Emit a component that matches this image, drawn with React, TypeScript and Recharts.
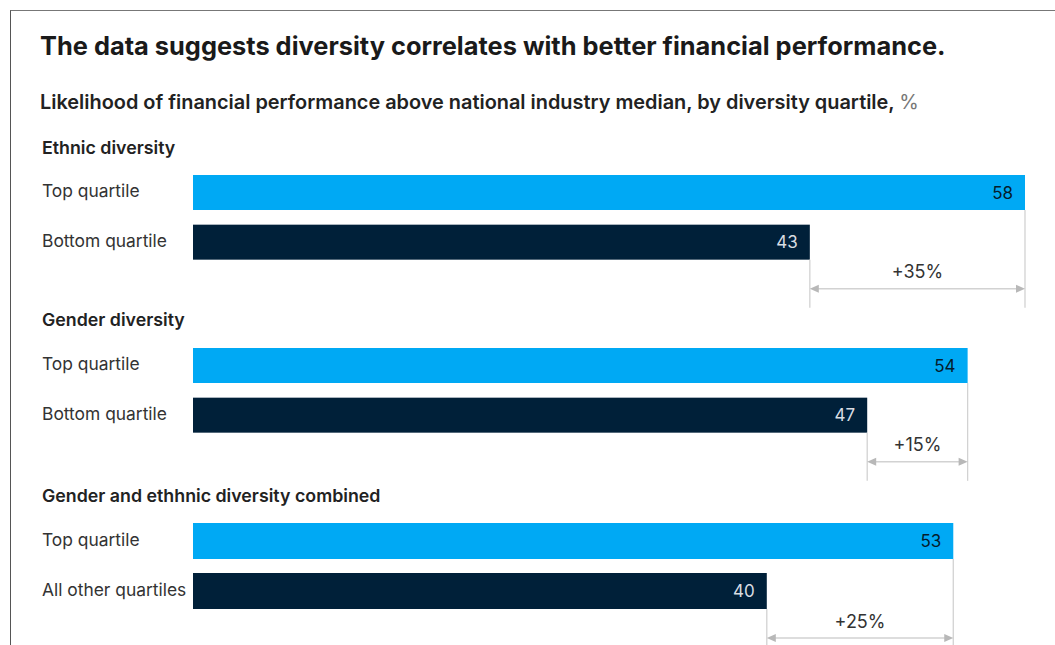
import React from 'react';
import { BarChart, Bar, XAxis, YAxis, LabelList } from 'recharts';

const groupTitles = ['Ethnic diversity', 'Gender diversity', 'Gender and ethhnic diversity combined'];
const topLabels = ['Top quartile', 'Top quartile', 'Top quartile'];
const bottomLabels = ['Bottom quartile', 'Bottom quartile', 'All other quartiles'];
const topValues = [58, 54, 53];
const bottomValues = [43, 47, 40];
const diffLabels = ['+35%', '+15%', '+25%'];

const TOP_COLOR = '#00A9F4';
const BOTTOM_COLOR = '#002039';
const FONT = 'Inter, "Noto Sans", sans-serif';

// layout per group: chart top, chart height, bar thickness, heading center
const groups = [
  { top: 168, height: 149, barSize: 35, headY: 148 },
  { top: 341, height: 149, barSize: 35, headY: 320 },
  { top: 516, height: 150, barSize: 36, headY: 496 },
];

function makeData(i: number) {
  return [
    { name: topLabels[i], value: topValues[i], kind: 'top' },
    { name: bottomLabels[i], value: bottomValues[i], kind: 'bottom' },
    { name: ' ', value: [bottomValues[i], topValues[i]], kind: 'diff', label: diffLabels[i] },
  ];
}

function makeShape(band: number, barSize: number) {
  return (props: any) => {
    const { x, y, width, height, payload } = props;
    if (payload.kind !== 'diff') {
      return (
        <rect x={x} y={y} width={width} height={height}
          fill={payload.kind === 'top' ? TOP_COLOR : BOTTOM_COLOR} />
      );
    }
    const cy = y + height / 2;
    const ay = cy - 3;
    const x1 = x;
    const x2 = x + width;
    const lineEnd = ay + 19;
    const gray = '#d2d2d2';
    const head = '#b8b8b8';
    return (
      <g>
        <line x1={x2} x2={x2} y1={cy - 2 * band + barSize / 2} y2={lineEnd} stroke={gray} strokeWidth={1.3} />
        <line x1={x1} x2={x1} y1={cy - band + barSize / 2} y2={lineEnd} stroke={gray} strokeWidth={1.3} />
        <line x1={x1 + 6} x2={x2 - 6} y1={ay} y2={ay} stroke={gray} strokeWidth={1.5} />
        <polygon points={`${x1},${ay} ${x1 + 9},${ay - 4} ${x1 + 9},${ay + 4}`} fill={head} />
        <polygon points={`${x2},${ay} ${x2 - 9},${ay - 4} ${x2 - 9},${ay + 4}`} fill={head} />
        <text x={(x1 + x2) / 2} y={ay - 17} textAnchor="middle" dominantBaseline="central"
          fontSize={18} fontFamily={FONT} fill="#333">{payload.label}</text>
      </g>
    );
  };
}

const ValueLabel = (props: any) => {
  const { x, y, width, height, value, index } = props;
  if (Array.isArray(value) || index === 2) return null;
  return (
    <text x={x + width - 12} y={y + height / 2} textAnchor="end" dominantBaseline="central"
      fontSize={17} fontFamily={FONT} fill={index === 0 ? '#051C2C' : '#d9dde2'}>
      {value}
    </text>
  );
};

const Tick = (props: any) => {
  const { y, payload } = props;
  return (
    <text x={42} y={y - 2} dominantBaseline="central" fontSize={17.4} fontFamily={FONT} fill="#333">
      {payload.value}
    </text>
  );
};

function Group({ i }: { i: number }) {
  const g = groups[i];
  const band = g.height / 3;
  return (
    <>
      <div style={{ position: 'absolute', left: 42, top: g.headY - 11, lineHeight: '22px', fontSize: 17.8, fontWeight: 600, color: '#222', whiteSpace: 'nowrap' }}>
        {groupTitles[i]}
      </div>
      <div style={{ position: 'absolute', left: 0, top: g.top }}>
        <BarChart width={1055} height={g.height} data={makeData(i)} layout="vertical"
          margin={{ top: 0, right: 30, bottom: 0, left: 0 }} barSize={g.barSize}>
          <XAxis type="number" domain={[0, 58]} hide />
          <YAxis type="category" dataKey="name" width={193} axisLine={false} tickLine={false} tick={<Tick />} />
          <Bar dataKey="value" isAnimationActive={false} shape={makeShape(band, g.barSize)}>
            <LabelList dataKey="value" content={<ValueLabel />} />
          </Bar>
        </BarChart>
      </div>
    </>
  );
}

export default function App() {
  return (
    <div style={{ position: 'fixed', left: 0, top: 0, width: 1055, height: 645, overflow: 'hidden', background: '#fff', fontFamily: FONT }}>
      <div style={{ position: 'absolute', left: 10, top: 10, right: 0, bottom: 0, borderLeft: '1.5px solid #555', borderTop: '1.5px solid #777' }} />
      <div style={{ position: 'absolute', left: 40, top: 30, lineHeight: '32px', fontSize: 25.4, fontWeight: 700, color: '#1a1a1a', whiteSpace: 'nowrap' }}>
        The data suggests diversity correlates with better financial performance.
      </div>
      <div style={{ position: 'absolute', left: 40, top: 90, lineHeight: '24px', fontSize: 19.9, fontWeight: 600, color: '#222', whiteSpace: 'nowrap' }}>
        Likelihood of financial performance above national industry median, by diversity quartile,{' '}
        <span style={{ fontWeight: 400, color: '#777' }}>%</span>
      </div>
      {groups.map((_, i) => <Group key={i} i={i} />)}
    </div>
  );
}
